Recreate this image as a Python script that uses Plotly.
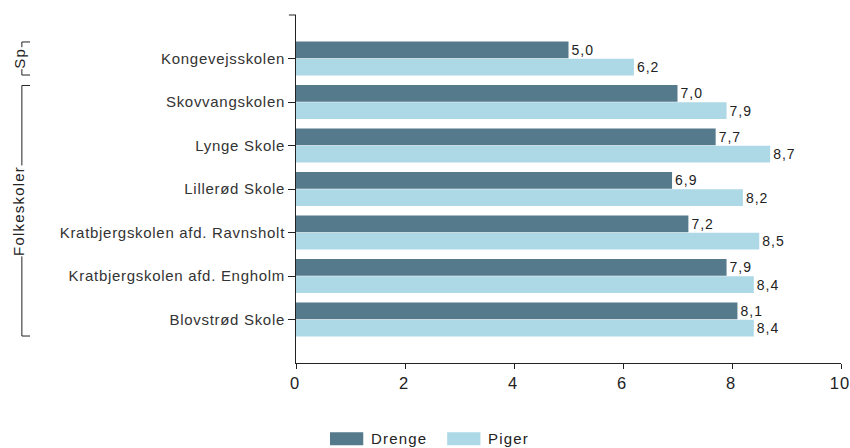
import plotly.graph_objects as go

schools = ["Kongevejsskolen", "Skovvangskolen", "Lynge Skole", "Lillerød Skole",
           "Kratbjergskolen afd. Ravnsholt", "Kratbjergskolen afd. Engholm", "Blovstrød Skole"]
drenge = [5.0, 7.0, 7.7, 6.9, 7.2, 7.9, 8.1]
piger = [6.2, 7.9, 8.7, 8.2, 8.5, 8.4, 8.4]
series_names = ["Drenge", "Piger"]
series_colors = ["#557A8C", "#ADD8E6"]
x_ticks = [0, 2, 4, 6, 8, 10]
groups = [("Sp", 0, 0), ("Folkeskoler", 1, 6)]

FONT = "Liberation Sans, Arial, sans-serif"
INK = "#222222"


def ls(text, px):
    return f'<span style="letter-spacing:{px}px">{text}</span>'


def fmt(v):
    return ls(f"{v:.1f}".replace(".", ","), 1)


fig = go.Figure()
for name, color, vals in zip(series_names, series_colors, [drenge, piger]):
    fig.add_trace(go.Bar(y=schools, x=vals, name=name, orientation="h",
                         marker=dict(color=color, line=dict(width=0)),
                         text=[fmt(v) for v in vals],
                         textposition="outside", cliponaxis=False,
                         textfont=dict(size=14, color=INK, family=FONT)))

fig.update_layout(
    width=850, height=448,
    margin=dict(l=296, r=9, t=15, b=85),
    plot_bgcolor="white", paper_bgcolor="white",
    barmode="group", bargap=0.2, bargroupgap=0.04,
    font=dict(family=FONT, color=INK),
    showlegend=False,
    xaxis=dict(range=[0, 10], tickvals=x_ticks,
               ticktext=[ls(str(t), 1) for t in x_ticks],
               ticks="outside", ticklen=5, tickcolor=INK, ticklabeloverflow="allow",
               ticklabelshift=-1,
               showline=True, linecolor=INK, linewidth=1, showgrid=False,
               zeroline=False, tickfont=dict(size=16.5, color=INK), automargin=False),
    yaxis=dict(categoryorder="array", categoryarray=schools, range=[7, -1],
               tickvals=schools, ticktext=[ls(s, 0.7) for s in schools],
               ticks="outside", ticklen=7, tickcolor=INK, showline=True, linecolor=INK,
               linewidth=1, showgrid=False, tickfont=dict(size=15, color="#333"),
               automargin=False),
)

# top end tick of y axis
fig.add_shape(type="line", xref="paper", yref="paper", x0=-0.013, x1=0, y0=1, y1=1,
              line=dict(color=INK, width=1))

# group brackets
for label, i0, i1 in groups:
    y0, y1 = i0 - 0.38, i1 + 0.38
    fig.add_shape(type="path", xref="paper", yref="y",
                  path=f"M -0.488 {y0} L -0.503 {y0} L -0.503 {y1} L -0.488 {y1}",
                  line=dict(color=INK, width=1))
    fig.add_annotation(text=ls(label, 1.2), xref="paper", yref="y", x=-0.508,
                       y=(i0 + i1) / 2, xanchor="center", yanchor="middle",
                       textangle=-90, showarrow=False, borderpad=0,
                       bgcolor="white", font=dict(size=15, color=INK))

# legend (wide swatches as in the reference)
x = 0.0624
for name, color in zip(series_names, series_colors):
    fig.add_shape(type="rect", xref="paper", yref="paper", x0=x, x1=x + 0.061,
                  y0=-0.236, y1=-0.199, fillcolor=color, line=dict(width=0))
    fig.add_annotation(text=ls(name, 1.2), xref="paper", yref="paper", x=x + 0.072,
                       y=-0.218, xanchor="left", yanchor="middle", showarrow=False,
                       font=dict(size=15, color=INK))
    x += 0.215

fig.write_html("out.html", config={"displayModeBar": False},
               post_script="document.body.style.margin='0';document.body.style.overflow='hidden';")
